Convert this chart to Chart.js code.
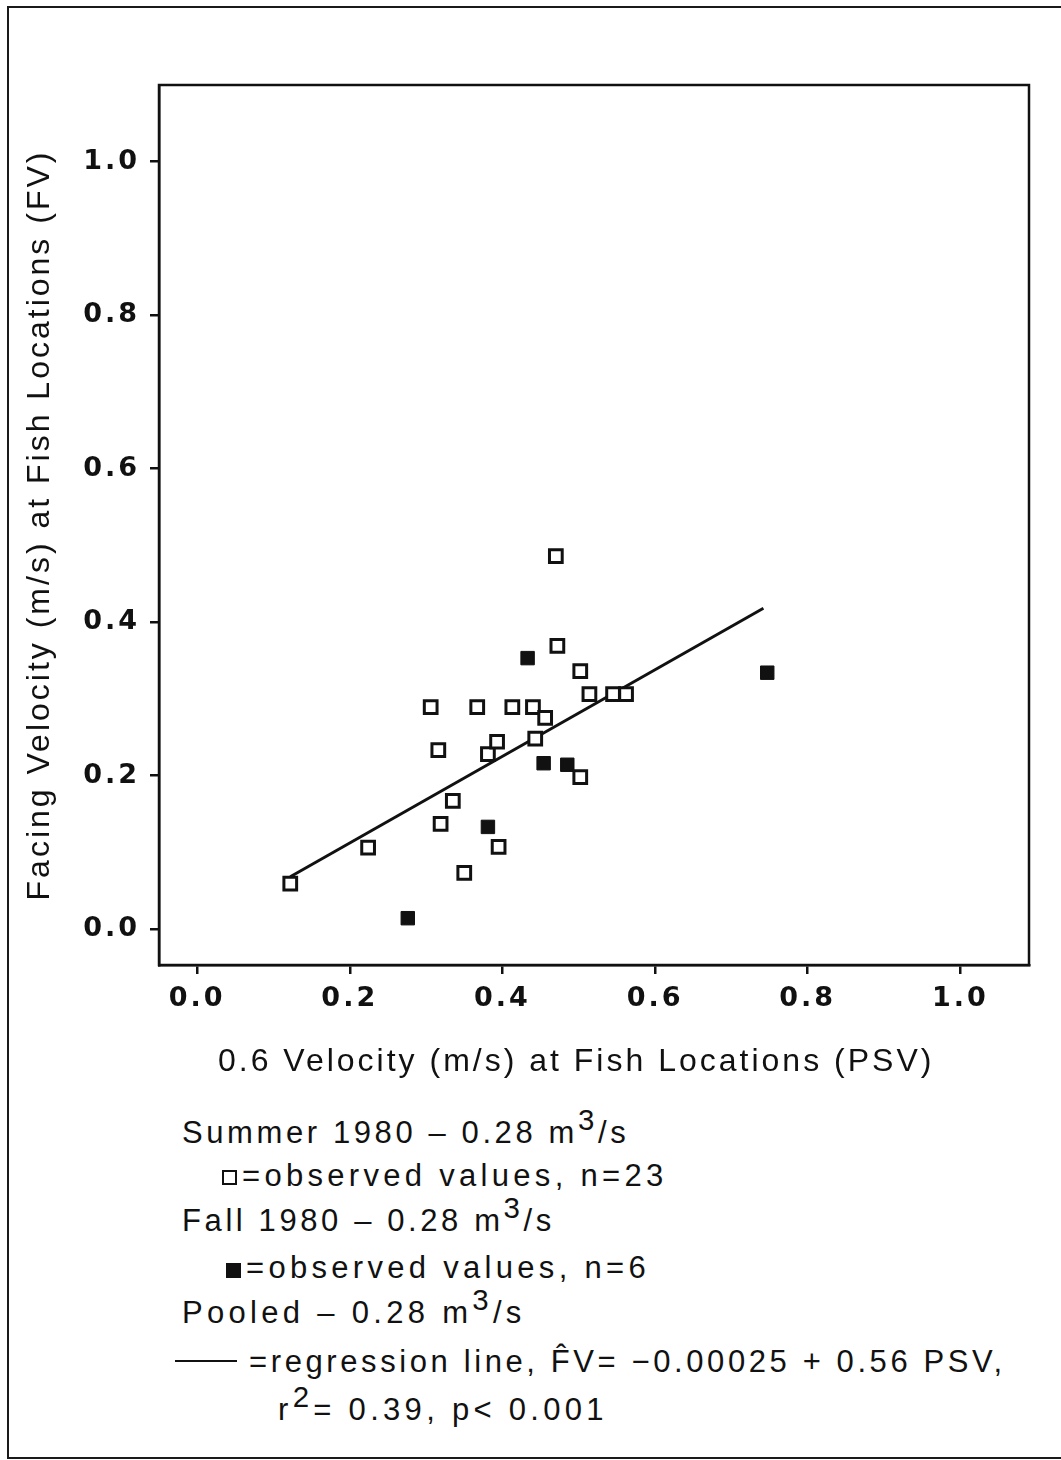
<!DOCTYPE html>
<html><head><meta charset="utf-8">
<script src="https://cdn.jsdelivr.net/npm/chart.js@4"></script>
<style>
html,body{margin:0;padding:0;background:#fff;}
#page{position:relative;width:1061px;height:1460px;overflow:hidden;background:#fff;}
#frame{position:absolute;left:7px;top:6px;width:1100px;height:1453px;border:2px solid #1a1a1a;box-sizing:border-box;}
#wrap{position:absolute;left:0;top:0;width:1061px;height:1100px;}
.leg{position:absolute;font-family:'Liberation Sans',Arial,sans-serif;font-size:31px;letter-spacing:3.6px;line-height:40px;color:#111;white-space:nowrap;}
.leg sup{font-size:0.95em;vertical-align:0.45em;line-height:0;}
.sq{display:inline-block;width:11px;height:11px;border:2.5px solid #111;margin-right:5px;vertical-align:1px;}
.fsq{display:inline-block;width:15px;height:15px;background:#111;margin-right:5px;vertical-align:0px;}
.ln{display:inline-block;width:62px;height:0;border-top:2.5px solid #111;margin-right:12px;vertical-align:10px;}
</style></head>
<body>
<div id="page">
  <div id="frame"></div>
  <div id="wrap"><canvas id="c" width="1061" height="1100"></canvas></div>
  <div class="leg" style="left:182px;top:1113px;">Summer 1980 – 0.28 m<sup>3</sup>/s</div>
  <div class="leg" style="left:222px;top:1156px;letter-spacing:4.3px;"><span class="sq"></span>=observed values, n=23</div>
  <div class="leg" style="left:182px;top:1201px;">Fall 1980 – 0.28 m<sup>3</sup>/s</div>
  <div class="leg" style="left:226px;top:1248px;letter-spacing:4.3px;"><span class="fsq"></span>=observed values, n=6</div>
  <div class="leg" style="left:182px;top:1293px;letter-spacing:4.3px;">Pooled – 0.28 m<sup>3</sup>/s</div>
  <div class="leg" style="left:175px;top:1342px;letter-spacing:3.6px;"><span class="ln"></span>=regression line, F̂V= −0.00025 + 0.56 PSV,</div>
  <div class="leg" style="left:278px;top:1390px;letter-spacing:4.3px;">r<sup>2</sup>= 0.39, p&lt; 0.001</div>
</div>
<script>
// Data
const summerX = [0.122,0.224,0.306,0.316,0.319,0.335,0.350,0.367,0.381,0.393,0.395,0.413,0.440,0.456,0.443,0.470,0.472,0.502,0.502,0.514,0.545,0.562];
const summerY = [0.059,0.106,0.289,0.233,0.137,0.167,0.073,0.289,0.228,0.244,0.107,0.289,0.289,0.275,0.248,0.486,0.369,0.336,0.198,0.306,0.306,0.306];
const fallX = [0.276,0.381,0.433,0.454,0.485,0.747];
const fallY = [0.014,0.133,0.353,0.216,0.214,0.334];
const regX = [0.122,0.742];
const regY = [0.068,0.418];
const xTicks = [0.0,0.2,0.4,0.6,0.8,1.0];
const yTicks = [0.0,0.2,0.4,0.6,0.8,1.0];
const xTitle = '0.6 Velocity (m/s) at Fish Locations (PSV)';
const yTitle = 'Facing Velocity (m/s) at Fish Locations (FV)';

const toPts = (xs, ys) => xs.map((x, i) => ({x: x, y: ys[i]}));
const INK = '#111';

const spacing = {
  id: 'spacing',
  beforeUpdate(c){ c.ctx.letterSpacing = '3px'; },
  beforeLayout(c){ c.ctx.letterSpacing = '3px'; },
  beforeDraw(c){ c.ctx.letterSpacing = '3px'; }
};
const boxPlugin = {
  id: 'box',
  afterDraw(c){
    const a = c.chartArea, ctx = c.ctx;
    ctx.save();
    ctx.strokeStyle = INK; ctx.lineWidth = 2.5;
    ctx.strokeRect(a.left, a.top, a.right - a.left, a.bottom - a.top);
    ctx.restore();
  }
};

new Chart(document.getElementById('c'), {
  type: 'scatter',
  data: {
    datasets: [
      {label: 'Summer 1980', data: toPts(summerX, summerY), pointStyle: 'rect', pointRadius: 9,
       backgroundColor: '#fff', borderColor: INK, borderWidth: 3, order: 1},
      {label: 'Fall 1980', data: toPts(fallX, fallY), pointStyle: 'rect', pointRadius: 9.5,
       backgroundColor: INK, borderColor: INK, borderWidth: 1, order: 2},
      {type: 'line', label: 'Regression', data: toPts(regX, regY), showLine: true, pointRadius: 0,
       borderColor: INK, borderWidth: 3, fill: false, order: 3}
    ]
  },
  options: {
    responsive: false, animation: false, devicePixelRatio: 1,
    layout: {padding: {top: 85, right: 32, left: 0, bottom: 0}},
    plugins: {legend: {display: false}, tooltip: {enabled: false}},
    scales: {
      x: {
        type: 'linear', min: -0.05, max: 1.09,
        afterBuildTicks: s => { s.ticks = xTicks.map(v => ({value: v})); },
        afterFit: s => { s.height = 135; },
        ticks: {callback: v => Number(v).toFixed(1), font: {family: 'DejaVu Sans', size: 27, weight: 'bold'}, color: INK, padding: 9, maxRotation: 0},
        grid: {drawOnChartArea: false, drawTicks: true, tickLength: 9, color: INK, lineWidth: 2.5},
        border: {display: true, color: INK, width: 2.5},
        title: {display: true, text: xTitle + '\u00a0\u00a0\u00a0', color: INK,
                font: {family: 'Liberation Sans', size: 32}, padding: {top: 0, bottom: 19}}
      },
      y: {
        type: 'linear', min: -0.047, max: 1.10,
        afterBuildTicks: s => { s.ticks = yTicks.map(v => ({value: v})); },
        afterFit: s => { s.width = 159; },
        ticks: {callback: v => Number(v).toFixed(1), font: {family: 'DejaVu Sans', size: 27, weight: 'bold'}, color: INK, padding: 10},
        grid: {drawOnChartArea: false, drawTicks: true, tickLength: 9, color: INK, lineWidth: 2.5},
        border: {display: true, color: INK, width: 2.5},
        title: {display: true, text: yTitle, color: INK,
                font: {family: 'Liberation Sans', size: 32}, padding: {top: 21, bottom: 0}}
      }
    }
  },
  plugins: [spacing, boxPlugin]
});
</script>
</body></html>
